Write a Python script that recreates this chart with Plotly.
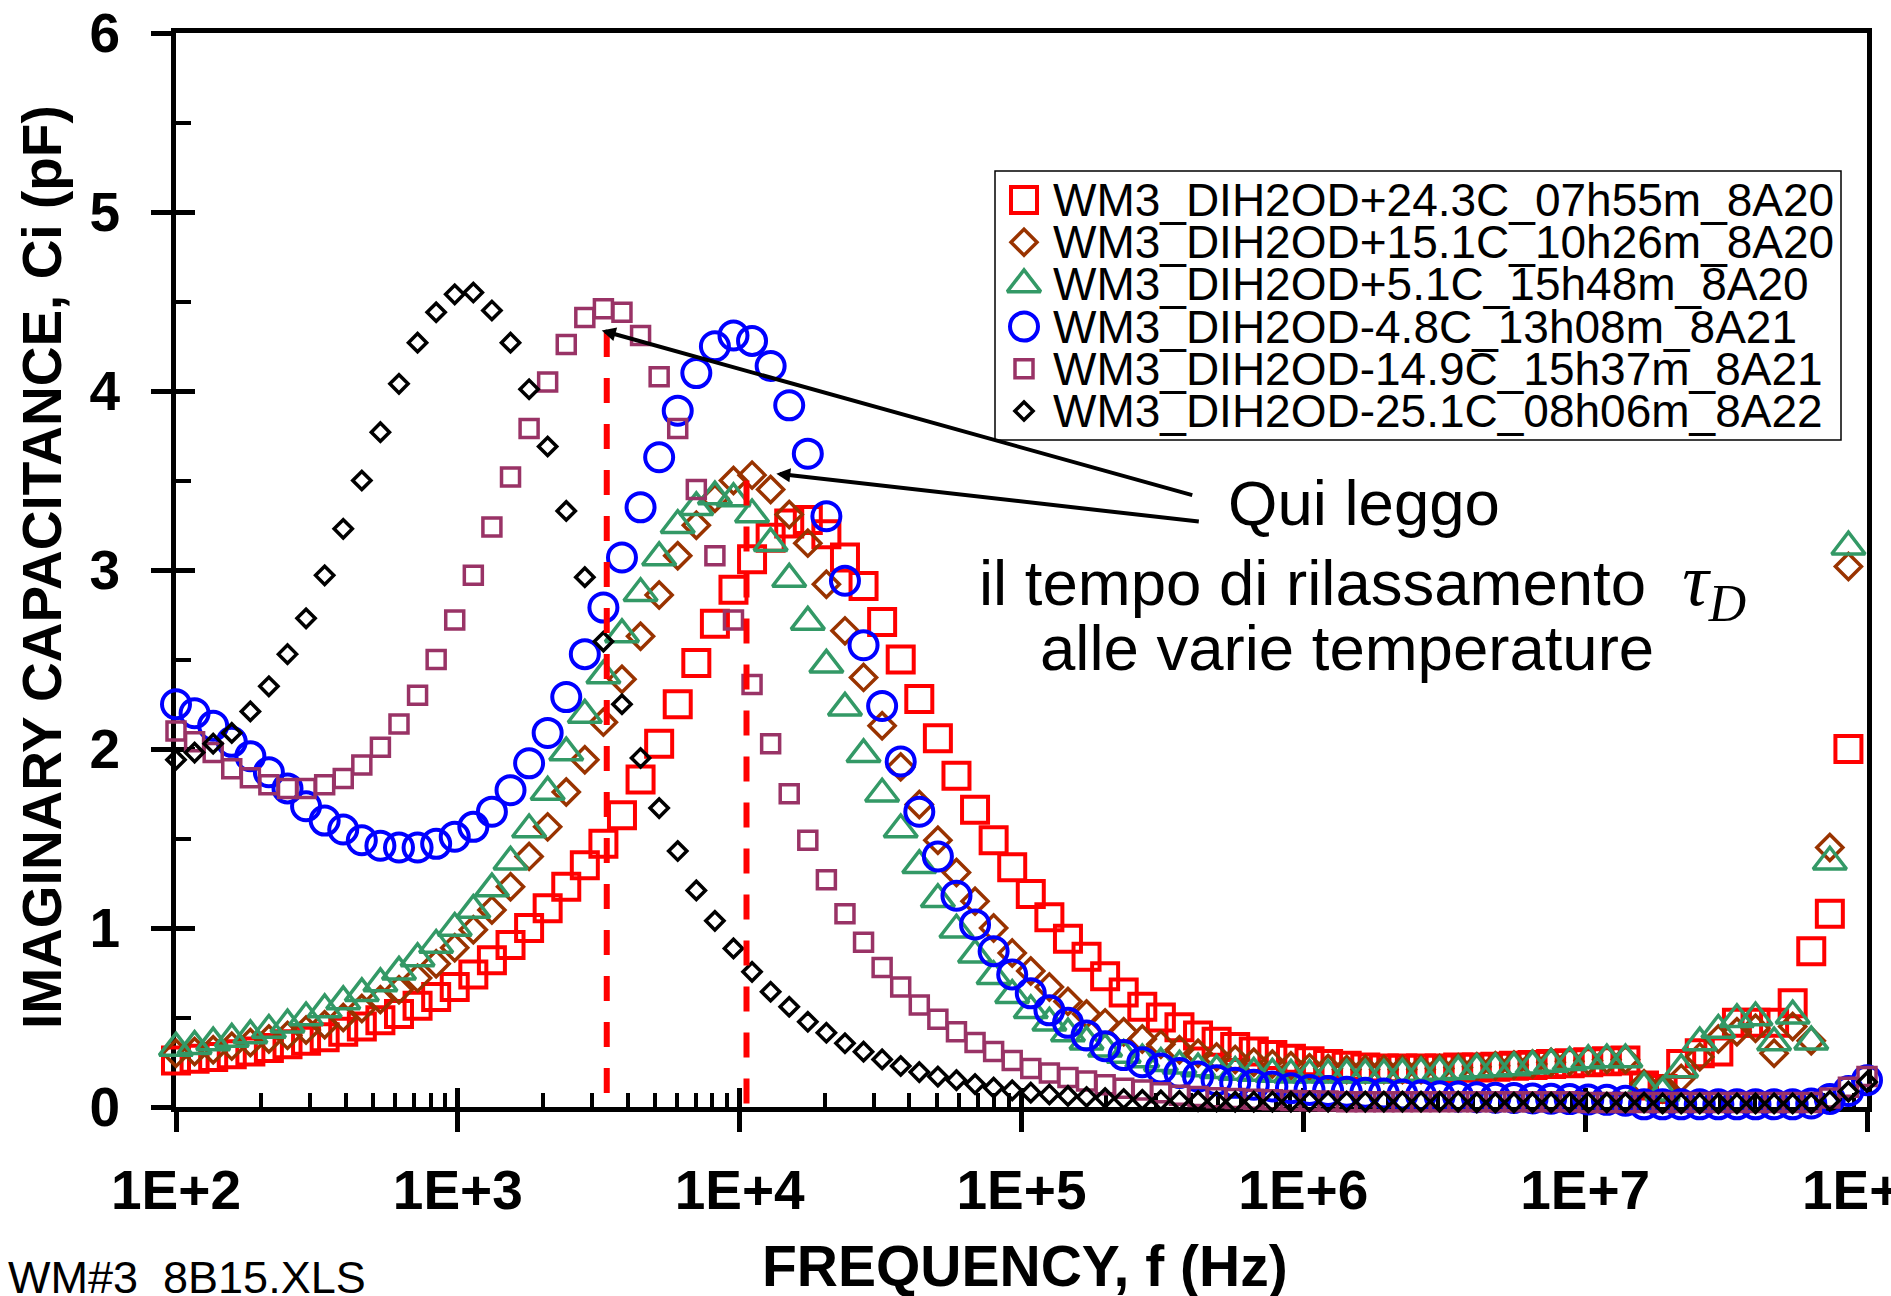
import plotly.graph_objects as go

# ---------------- data ----------------
freq_hz = [100, 116.4, 135.5, 157.7, 183.6, 213.6, 248.7, 289.4, 336.9, 392.1, 456.4, 531.2, 618.3, 719.7, 837.7, 975.0,
           1135, 1321, 1538, 1790, 2083, 2425, 2822, 3285, 3823, 4450, 5180, 6029, 7018, 8168, 9507,
           11065, 12880, 14991, 17450, 20309, 23639, 27515, 32026, 37276, 43388, 50503, 58782, 68421, 79637, 92693,
           107880, 125580, 146170, 170130, 198020, 230480, 268270, 312260, 363470, 423040, 492410, 573130, 667110, 776460, 903770,
           1.0519e6, 1.2244e6, 1.4251e6, 1.6589e6, 1.9307e6, 2.2472e6, 2.6157e6, 3.0446e6, 3.5438e6, 4.1246e6, 4.8010e6, 5.5881e6, 6.5044e6, 7.5706e6, 8.8118e6,
           1.0256e7, 1.1938e7, 1.3895e7, 1.6174e7, 1.8826e7, 2.1911e7, 2.5504e7, 2.9685e7, 3.4553e7, 4.0217e7, 4.6811e7, 5.4485e7, 6.3419e7, 7.3814e7, 8.5916e7, 1.0e8]

series_names = [
    "WM3_DIH2OD+24.3C_07h55m_8A20",
    "WM3_DIH2OD+15.1C_10h26m_8A20",
    "WM3_DIH2OD+5.1C_15h48m_8A20",
    "WM3_DIH2OD-4.8C_13h08m_8A21",
    "WM3_DIH2OD-14.9C_15h37m_8A21",
    "WM3_DIH2OD-25.1C_08h06m_8A22",
]

ci_p24 = [0.26, 0.27, 0.28, 0.295, 0.31, 0.33, 0.35, 0.37, 0.39, 0.42,
          0.45, 0.485, 0.52, 0.565, 0.615, 0.67, 0.74, 0.82, 0.905, 1.00,
          1.11, 1.23, 1.35, 1.47, 1.63, 1.83, 2.03, 2.25, 2.48, 2.70,
          2.89, 3.06, 3.18, 3.26, 3.28, 3.20, 3.07, 2.91, 2.71, 2.50,
          2.28, 2.06, 1.85, 1.66, 1.49, 1.34, 1.19, 1.06, 0.94, 0.84,
          0.73, 0.64, 0.56, 0.50, 0.445, 0.40, 0.365, 0.335, 0.31, 0.29,
          0.27, 0.255, 0.24, 0.23, 0.22, 0.215, 0.215, 0.215, 0.215, 0.22,
          0.22, 0.225, 0.23, 0.235, 0.24, 0.245, 0.25, 0.255, 0.26, 0.12,
          0.10, 0.24, 0.30, 0.31, 0.47, 0.47, 0.47, 0.58, 0.87, 1.08,
          2.00, None]

ci_p15 = [0.30, 0.31, 0.32, 0.34, 0.36, 0.38, 0.40, 0.43, 0.46, 0.50,
          0.55, 0.60, 0.655, 0.72, 0.80, 0.89, 0.99, 1.10, 1.23, 1.40,
          1.565, 1.76, 1.94, 2.15, 2.39, 2.63, 2.86, 3.08, 3.25, 3.40,
          3.50, 3.53, 3.45, 3.31, 3.15, 2.92, 2.66, 2.40, 2.13, 1.90,
          1.69, 1.49, 1.31, 1.15, 1.00, 0.86, 0.76, 0.67, 0.59, 0.52,
          0.47, 0.42, 0.38, 0.35, 0.32, 0.30, 0.28, 0.265, 0.25, 0.24,
          0.23, 0.22, 0.215, 0.21, 0.21, 0.21, 0.21, 0.21, 0.215, 0.22,
          0.225, 0.23, 0.235, 0.24, 0.25, 0.255, 0.26, 0.265, 0.265, 0.13,
          0.10, 0.16, 0.28, 0.38, 0.42, 0.44, 0.30, 0.45, 0.37, 1.45,
          3.02, None]

ci_p5 = [0.33, 0.34, 0.36, 0.38, 0.40, 0.43, 0.46, 0.50, 0.545, 0.59,
         0.635, 0.69, 0.755, 0.83, 0.905, 1.00, 1.10, 1.22, 1.37, 1.55,
         1.76, 1.98, 2.19, 2.41, 2.64, 2.87, 3.07, 3.25, 3.35, 3.41,
         3.40, 3.31, 3.15, 2.95, 2.71, 2.47, 2.23, 1.97, 1.75, 1.55,
         1.35, 1.16, 0.99, 0.85, 0.73, 0.625, 0.54, 0.47, 0.41, 0.365,
         0.325, 0.29, 0.265, 0.245, 0.23, 0.215, 0.205, 0.195, 0.19, 0.185,
         0.18, 0.18, 0.18, 0.18, 0.18, 0.18, 0.185, 0.19, 0.195, 0.20,
         0.21, 0.215, 0.22, 0.23, 0.24, 0.25, 0.26, 0.265, 0.265, 0.11,
         0.08, 0.21, 0.36, 0.43, 0.49, 0.50, 0.36, 0.51, 0.365, 1.37,
         3.13, None]

ci_m5 = [2.25, 2.20, 2.13, 2.04, 1.96, 1.87, 1.78, 1.68, 1.60, 1.55,
         1.49, 1.46, 1.45, 1.45, 1.47, 1.51, 1.565, 1.65, 1.77, 1.92,
         2.09, 2.29, 2.53, 2.79, 3.07, 3.35, 3.63, 3.89, 4.10, 4.25,
         4.31, 4.28, 4.14, 3.92, 3.65, 3.30, 2.94, 2.58, 2.24, 1.93,
         1.65, 1.40, 1.18, 1.02, 0.87, 0.74, 0.635, 0.54, 0.47, 0.40,
         0.34, 0.29, 0.25, 0.215, 0.19, 0.17, 0.15, 0.135, 0.125, 0.115,
         0.105, 0.095, 0.09, 0.085, 0.08, 0.075, 0.07, 0.065, 0.06, 0.058,
         0.055, 0.052, 0.05, 0.048, 0.046, 0.044, 0.042, 0.04, 0.035, 0.015,
         0.015, 0.015, 0.015, 0.015, 0.015, 0.015, 0.015, 0.015, 0.02, 0.045,
         0.09, 0.15]

ci_m15 = [2.10, 2.04, 1.98, 1.89, 1.84, 1.80, 1.78, 1.78, 1.80, 1.835,
          1.91, 2.01, 2.14, 2.30, 2.50, 2.72, 2.97, 3.24, 3.52, 3.79,
          4.05, 4.26, 4.41, 4.46, 4.44, 4.31, 4.08, 3.79, 3.45, 3.08,
          2.72, 2.36, 2.03, 1.75, 1.49, 1.27, 1.08, 0.92, 0.78, 0.67,
          0.57, 0.49, 0.42, 0.36, 0.31, 0.26, 0.215, 0.19, 0.165, 0.145,
          0.125, 0.105, 0.095, 0.08, 0.065, 0.058, 0.052, 0.047, 0.043, 0.04,
          0.037, 0.035, 0.033, 0.03, 0.03, 0.03, 0.03, 0.03, 0.03, 0.03,
          0.03, 0.03, 0.03, 0.03, 0.03, 0.03, 0.025, 0.025, 0.025, 0.025,
          0.025, 0.025, 0.025, 0.025, 0.025, 0.025, 0.025, 0.025, 0.025, 0.05,
          0.11, 0.17]

ci_m25 = [1.94, 1.98, 2.03, 2.09, 2.21, 2.35, 2.53, 2.73, 2.97, 3.23,
          3.50, 3.77, 4.04, 4.27, 4.44, 4.54, 4.55, 4.45, 4.27, 4.01,
          3.69, 3.33, 2.96, 2.60, 2.25, 1.95, 1.67, 1.43, 1.21, 1.04,
          0.886, 0.755, 0.644, 0.56, 0.476, 0.415, 0.356, 0.309, 0.266, 0.229,
          0.195, 0.17, 0.15, 0.128, 0.108, 0.093, 0.08, 0.07, 0.062, 0.056,
          0.05, 0.045, 0.04, 0.037, 0.035, 0.033, 0.031, 0.03, 0.03, 0.03,
          0.03, 0.03, 0.03, 0.03, 0.03, 0.03, 0.03, 0.03, 0.03, 0.03,
          0.025, 0.025, 0.025, 0.025, 0.025, 0.025, 0.025, 0.025, 0.025, 0.025,
          0.02, 0.02, 0.02, 0.02, 0.02, 0.02, 0.02, 0.02, 0.02, 0.035,
          0.086, 0.14]

series_values = [ci_p24, ci_p15, ci_p5, ci_m5, ci_m15, ci_m25]

# relaxation-time read-off frequencies (dashed markers) and their heights
tau_freq_hz = [3376, 10574]
tau_top_pf = [4.33, 3.50]

x_tick_vals = [1e2, 1e3, 1e4, 1e5, 1e6, 1e7, 1e8]
x_tick_text = ["1E+2", "1E+3", "1E+4", "1E+5", "1E+6", "1E+7", "1E+8"]
y_tick_vals = [0, 1, 2, 3, 4, 5, 6]
y_tick_text = ["0", "1", "2", "3", "4", "5", "6"]

# ---------------- styles ----------------
styles = [
    dict(symbol="square-open", color="#FF0000", size=26, lw=4),
    dict(symbol="diamond-open", color="#993300", size=20, lw=3.5),
    dict(symbol="triangle-up-open", color="#339966", size=29, lw=3.5),
    dict(symbol="circle-open", color="#0000FF", size=28, lw=4),
    dict(symbol="square-open", color="#993366", size=18, lw=3.5),
    dict(symbol="diamond-open", color="#000000", size=14, lw=3.5),
]

FONT = "Liberation Sans, Arial, Helvetica, sans-serif"
FIG_W, FIG_H = 1891, 1296
L, R, T, B = 176, 1867, 33, 1107
PW, PH = R - L, B - T


def px_x(p):
    return (p - L) / PW


def px_y(p):
    return (B - p) / PH


fig = go.Figure()

for name, vals, st in zip(series_names, series_values, styles):
    fig.add_trace(go.Scatter(
        x=freq_hz, y=vals, mode="markers", name=name, showlegend=False,
        cliponaxis=False,
        marker=dict(symbol=st["symbol"], color=st["color"], size=st["size"],
                    line=dict(width=st["lw"], color=st["color"])),
    ))

# dashed read-off lines
for f, top in zip(tau_freq_hz, tau_top_pf):
    fig.add_trace(go.Scatter(
        x=[f, f], y=[top, 0], mode="lines", showlegend=False,
        xaxis="x2", yaxis="y2", hoverinfo="skip",
        line=dict(color="#FF0000", width=6, dash="25px,21px"),
    ))

# manual legend (markers on an overlay axis, text as annotations)
leg_marker_x = px_x(1024)
leg_rows_y = [px_y(200 + 42.2 * i) for i in range(len(series_names))]
for i, st in enumerate(styles):
    fig.add_trace(go.Scatter(
        x=[leg_marker_x], y=[leg_rows_y[i]], mode="markers", showlegend=False,
        xaxis="x3", yaxis="y3", hoverinfo="skip", cliponaxis=False,
        marker=dict(symbol=st["symbol"], color=st["color"], size=st["size"],
                    line=dict(width=st["lw"], color=st["color"])),
    ))

annotations = []
for i, name in enumerate(series_names):
    annotations.append(dict(
        text=name, x=px_x(1051), y=leg_rows_y[i], xref="paper", yref="paper",
        xanchor="left", yanchor="middle", showarrow=False,
        font=dict(family=FONT, size=46, color="black"),
    ))

# axis titles
annotations.append(dict(
    text="IMAGINARY CAPACITANCE, Ci (pF)", textangle=-90,
    x=px_x(42), y=px_y(567), xref="paper", yref="paper",
    xanchor="center", yanchor="middle", showarrow=False,
    font=dict(family=FONT, size=55, color="black", weight="bold"),
))
annotations.append(dict(
    text="FREQUENCY, f (Hz)",
    x=px_x(1025), y=px_y(1266), xref="paper", yref="paper",
    xanchor="center", yanchor="middle", showarrow=False,
    font=dict(family=FONT, size=57, color="black", weight="bold"),
))
annotations.append(dict(
    text="WM#3_8B15.XLS",
    x=px_x(6), y=px_y(1305), xref="paper", yref="paper",
    xanchor="left", yanchor="bottom", showarrow=False,
    font=dict(family=FONT, size=45, color="black"),
))

# explanatory text
TXT = 63.5
annotations.append(dict(
    text="Qui leggo", x=px_x(1364), y=px_y(523 - 0.905 * TXT), xref="paper", yref="paper",
    xanchor="center", yanchor="top", showarrow=False,
    font=dict(family=FONT, size=TXT, color="black"),
))
annotations.append(dict(
    text='il tempo di rilassamento <span style="font-family:Liberation Serif, Times New Roman, serif;font-size:74px"> <i>τ<sub>D</sub></i></span>',
    x=px_x(977), y=px_y(600 - 0.905 * TXT - 6), xref="paper", yref="paper",
    xanchor="left", yanchor="top", showarrow=False,
    font=dict(family=FONT, size=TXT, color="black"),
))
annotations.append(dict(
    text="alle varie temperature", x=px_x(1347), y=px_y(668 - 0.905 * TXT), xref="paper", yref="paper",
    xanchor="center", yanchor="top", showarrow=False,
    font=dict(family=FONT, size=TXT, color="black"),
))

# arrows pointing at the two peaks
annotations.append(dict(
    text="", x=3.5107, y=4.338, xref="x", yref="y", ax=592, ay=165,
    showarrow=True, arrowhead=2, arrowsize=0.7, arrowwidth=4, arrowcolor="black", standoff=0,
))
annotations.append(dict(
    text="", x=4.130, y=3.538, xref="x", yref="y", ax=424, ay=48,
    showarrow=True, arrowhead=2, arrowsize=0.7, arrowwidth=4, arrowcolor="black", standoff=0,
))

shapes = [dict(
    type="rect", xref="paper", yref="paper",
    x0=px_x(995), x1=px_x(1841), y0=px_y(440), y1=px_y(171),
    line=dict(color="black", width=1.5), fillcolor="white", layer="below",
)]

minor_x = [m * 10 ** e for e in range(2, 8) for m in range(2, 10)]
minor_y = [v + 0.5 for v in range(6)]

tickfont = dict(family=FONT, size=55, color="black", weight="bold")

fig.update_layout(
    width=FIG_W, height=FIG_H, autosize=False,
    margin=dict(l=L, r=FIG_W - R, t=T, b=FIG_H - B, pad=0),
    paper_bgcolor="white", plot_bgcolor="white",
    showlegend=False,
    annotations=annotations, shapes=shapes,
    xaxis=dict(
        type="log", range=[2, 8], tickmode="array", tickvals=x_tick_vals, ticktext=x_tick_text,
        ticks="outside", ticklen=20, tickwidth=5, tickcolor="black",
        showline=True, linewidth=5, linecolor="black", mirror=True,
        showgrid=False, zeroline=False, tickfont=tickfont, ticklabelstandoff=11,
        ticklabeloverflow="allow", automargin=False,
        minor=dict(ticks="inside", ticklen=14, tickwidth=4, tickcolor="black",
                   tickmode="array", tickvals=minor_x, showgrid=False),
        layer="below traces",
    ),
    yaxis=dict(
        range=[0, 6], tickmode="array", tickvals=y_tick_vals, ticktext=y_tick_text,
        ticks="outside", ticklen=20, tickwidth=5, tickcolor="black",
        showline=True, linewidth=5, linecolor="black", mirror=True,
        showgrid=False, zeroline=False, tickfont=tickfont, ticklabelstandoff=20,
        ticklabeloverflow="allow", automargin=False,
        minor=dict(ticks="inside", ticklen=15, tickwidth=4, tickcolor="black",
                   tickmode="array", tickvals=minor_y, showgrid=False),
        layer="below traces",
    ),
    xaxis2=dict(
        type="log", range=[2, 8], overlaying="x", anchor="y2", side="bottom",
        tickmode="array", tickvals=x_tick_vals, ticks="inside", ticklen=19, tickwidth=5,
        tickcolor="black", showticklabels=False, showline=False, showgrid=False,
        zeroline=False, layer="below traces", automargin=False,
    ),
    yaxis2=dict(
        range=[0, 6], overlaying="y", anchor="x2", side="left",
        tickmode="array", tickvals=y_tick_vals, ticks="inside", ticklen=19, tickwidth=5,
        tickcolor="black", showticklabels=False, showline=False, showgrid=False,
        zeroline=False, layer="below traces", automargin=False,
    ),
    xaxis3=dict(range=[0, 1], overlaying="x", anchor="y3", visible=False, fixedrange=True, automargin=False),
    yaxis3=dict(range=[0, 1], overlaying="y", anchor="x3", visible=False, fixedrange=True, automargin=False),
)

fig.write_html("out.html", config={"displayModeBar": False})
